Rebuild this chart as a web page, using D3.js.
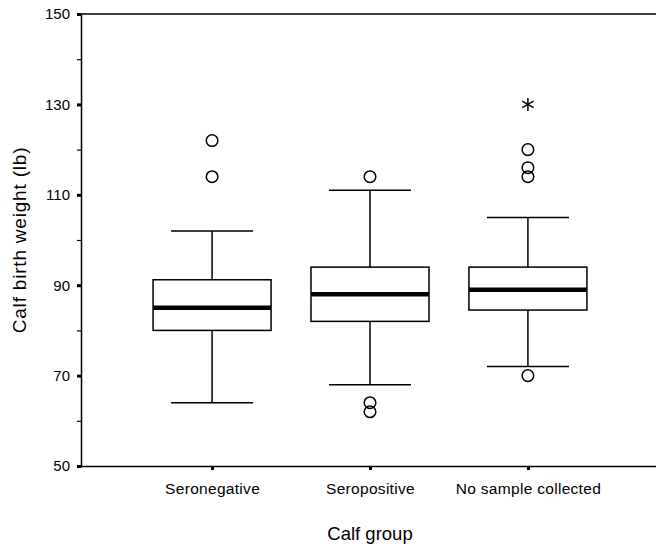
<!DOCTYPE html>
<html>
<head>
<meta charset="utf-8">
<script src="https://cdn.jsdelivr.net/npm/d3@7"></script>
<style>
  body { margin: 0; background: #fff; }
  svg { display: block; font-family: "Liberation Sans", Arial, sans-serif; }
</style>
</head>
<body>
<div id="plot"></div>
<script>
var svgWidth = 656;
var svgHeight = 546;

// box plot summary values (lb)
var categories = ["Seronegative", "Seropositive", "No sample collected"];
var q1 = [80, 82, 84.5];
var medians = [85, 88, 89];
var q3 = [91.2, 94, 94];
var whiskerLow = [64, 68, 72];
var whiskerHigh = [102, 111, 105];
var outliers = [[114, 122], [114, 64, 62], [120, 116, 114, 70]];
var extremes = [[], [], [130]];
var yTicks = [50, 70, 90, 110, 130, 150];
var yMinorTicks = [60, 80, 100, 120, 140];

var margin = { top: 14, left: 81, right: -3, bottom: 80 };

var svg = d3.select("#plot")
  .append("svg")
  .attr("width", svgWidth)
  .attr("height", svgHeight);

var x = d3.scalePoint()
  .domain(categories)
  .range([margin.left, svgWidth - margin.right])
  .padding(0.83);

var y = d3.scaleLinear()
  .domain([50, 150])
  .range([svgHeight - margin.bottom, margin.top]);

var boxW = 118;
var capW = 82;

// frame: top and bottom lines run off the right edge
svg.append("line")
  .attr("x1", margin.left).attr("x2", svgWidth)
  .attr("y1", y(150)).attr("y2", y(150))
  .attr("stroke", "#000").attr("stroke-width", 1.5);

// y axis
var leftAxis = d3.axisLeft(y).tickValues(yTicks).tickSize(4).tickPadding(7);
var gy = svg.append("g")
  .attr("transform", `translate(${margin.left},0)`)
  .call(leftAxis);
gy.select(".domain").attr("stroke-width", 1.5);
gy.selectAll(".tick line").attr("stroke-width", 3);
gy.selectAll(".tick text")
  .attr("font-size", "15px")
  .attr("font-family", "Liberation Sans, Arial, sans-serif")
  .attr("fill", "#000");

var minorAxis = d3.axisLeft(y).tickValues(yMinorTicks).tickSize(4).tickFormat("");
var gm = svg.append("g")
  .attr("transform", `translate(${margin.left},0)`)
  .call(minorAxis);
gm.select(".domain").remove();
gm.selectAll(".tick line").attr("stroke-width", 1.2);

// x axis
var bottomAxis = d3.axisBottom(x).tickSize(4).tickPadding(13).tickSizeOuter(0);
var gx = svg.append("g")
  .attr("transform", `translate(0,${y(50)})`)
  .call(bottomAxis);
gx.select(".domain").attr("d", `M${margin.left},0.5H${svgWidth}`).attr("stroke-width", 1.5);
gx.selectAll(".tick line").attr("stroke-width", 3);
gx.selectAll(".tick text")
  .attr("font-size", "15.5px")
  .attr("letter-spacing", "0.3px")
  .attr("font-family", "Liberation Sans, Arial, sans-serif")
  .attr("fill", "#000");

// boxes
var groups = svg.selectAll(".box")
  .data(categories)
  .enter()
  .append("g")
  .attr("class", "box");

groups.append("line")
  .attr("x1", d => x(d)).attr("x2", d => x(d))
  .attr("y1", (d, i) => y(whiskerHigh[i]))
  .attr("y2", (d, i) => y(q3[i]))
  .attr("stroke", "#000").attr("stroke-width", 1.5);

groups.append("line")
  .attr("x1", d => x(d)).attr("x2", d => x(d))
  .attr("y1", (d, i) => y(q1[i]))
  .attr("y2", (d, i) => y(whiskerLow[i]))
  .attr("stroke", "#000").attr("stroke-width", 1.5);

groups.append("line")
  .attr("x1", d => x(d) - capW / 2).attr("x2", d => x(d) + capW / 2)
  .attr("y1", (d, i) => y(whiskerHigh[i]))
  .attr("y2", (d, i) => y(whiskerHigh[i]))
  .attr("stroke", "#000").attr("stroke-width", 1.5);

groups.append("line")
  .attr("x1", d => x(d) - capW / 2).attr("x2", d => x(d) + capW / 2)
  .attr("y1", (d, i) => y(whiskerLow[i]))
  .attr("y2", (d, i) => y(whiskerLow[i]))
  .attr("stroke", "#000").attr("stroke-width", 1.5);

groups.append("rect")
  .attr("x", d => x(d) - boxW / 2)
  .attr("width", boxW)
  .attr("y", (d, i) => y(q3[i]))
  .attr("height", (d, i) => y(q1[i]) - y(q3[i]))
  .attr("fill", "#fff")
  .attr("stroke", "#000").attr("stroke-width", 1.5);

groups.append("line")
  .attr("x1", d => x(d) - boxW / 2).attr("x2", d => x(d) + boxW / 2)
  .attr("y1", (d, i) => y(medians[i]))
  .attr("y2", (d, i) => y(medians[i]))
  .attr("stroke", "#000").attr("stroke-width", 4.5);

// outliers as open circles
groups.each(function(d, i) {
  d3.select(this).selectAll(".out")
    .data(outliers[i])
    .enter()
    .append("circle")
    .attr("class", "out")
    .attr("cx", x(d))
    .attr("cy", v => y(v))
    .attr("r", 5.8)
    .attr("fill", "none")
    .attr("stroke", "#000")
    .attr("stroke-width", 1.5);

  // extremes as asterisks
  var star = d3.select(this).selectAll(".ext")
    .data(extremes[i])
    .enter()
    .append("g")
    .attr("class", "ext")
    .attr("transform", v => `translate(${x(d)},${y(v)})`);
  [90, 30, -30].forEach(function(a) {
    var r = 6.5, t = a * Math.PI / 180;
    star.append("line")
      .attr("x1", -r * Math.cos(t)).attr("y1", -r * Math.sin(t))
      .attr("x2", r * Math.cos(t)).attr("y2", r * Math.sin(t))
      .attr("stroke", "#000").attr("stroke-width", 1.5);
  });
});

// axis titles
svg.append("text")
  .attr("transform", `translate(26,${(y(50) + y(150)) / 2}) rotate(-90)`)
  .attr("text-anchor", "middle")
  .attr("font-size", "19px")
  .attr("letter-spacing", "0.8px")
  .attr("fill", "#000")
  .text("Calf birth weight (lb)");

svg.append("text")
  .attr("x", x(categories[1]))
  .attr("y", 540)
  .attr("text-anchor", "middle")
  .attr("font-size", "18.5px")
  .attr("fill", "#000")
  .text("Calf group");
</script>
</body>
</html>
